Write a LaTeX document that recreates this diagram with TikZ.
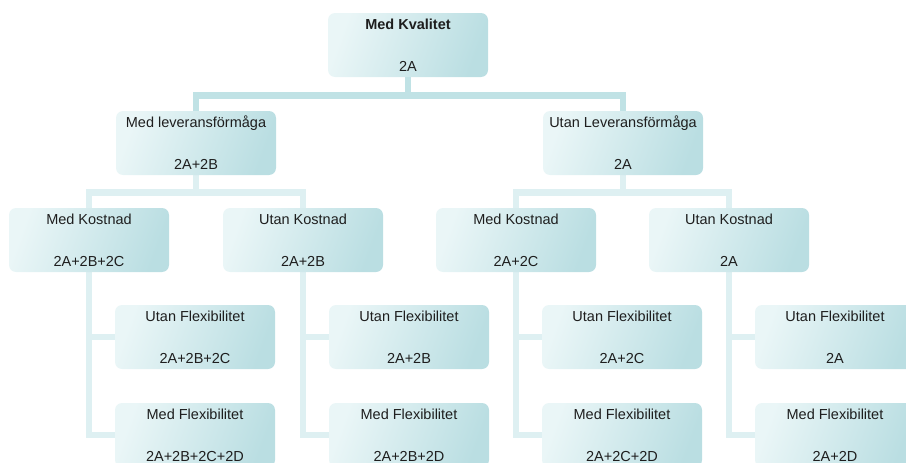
\documentclass[tikz,border=0pt]{standalone}
\usepackage{fontspec}
\setmainfont{Liberation Sans}
\usetikzlibrary{backgrounds}
\definecolor{boxlight}{RGB}{234,246,247}
\definecolor{boxdark}{RGB}{186,222,226}
\definecolor{trunkteal}{RGB}{192,226,229}
\definecolor{stemteal}{RGB}{222,240,242}
\definecolor{labelgray}{RGB}{30,30,30}
\tikzset{
  orgbox/.style={
    rounded corners=7pt,
    left color=boxlight,
    right color=boxdark,
    shading angle=70,
    minimum width=160pt,
    minimum height=64pt,
    inner sep=0pt
  },
  boxtext/.style={
    anchor=base,
    inner sep=0pt,
    text=labelgray,
    font=\fontsize{14.5}{17}\selectfont
  },
  toptext/.style={
    boxtext,
    yshift=-17pt
  },
  bottext/.style={
    boxtext,
    yshift=6pt
  },
  headtext/.style={
    toptext,
    font=\fontsize{14.5}{17}\selectfont\bfseries
  },
  trunk/.style={
    line width=6.5pt,
    draw=trunkteal
  },
  stem/.style={
    line width=6.5pt,
    draw=stemteal
  }
}
\begin{document}
\begin{tikzpicture}[x=1pt, y=-1pt]

\useasboundingbox (0,0) rectangle (906,463);
\clip (0,0) rectangle (906,463);

% Top level.
\node[orgbox, label={[headtext]north:Med Kvalitet}, label={[bottext]south:2A}] (kvalitet) at (408,45) {};

% Leveransförmåga.
\node[orgbox, label={[toptext]north:Med leveransförmåga}, label={[bottext]south:2A+2B}] (levMed) at (196,143) {};
\node[orgbox, label={[toptext]north:Utan Leveransförmåga}, label={[bottext]south:2A}] (levUtan) at (623,143) {};

% Kostnad.
\node[orgbox, label={[toptext]north:Med Kostnad}, label={[bottext]south:2A+2B+2C}] (kostMedA) at (89,240) {};
\node[orgbox, label={[toptext]north:Utan Kostnad}, label={[bottext]south:2A+2B}] (kostUtanA) at (303,240) {};
\node[orgbox, label={[toptext]north:Med Kostnad}, label={[bottext]south:2A+2C}] (kostMedB) at (516,240) {};
\node[orgbox, label={[toptext]north:Utan Kostnad}, label={[bottext]south:2A}] (kostUtanB) at (729,240) {};

% Flexibilitet.
\node[orgbox, label={[toptext]north:Utan Flexibilitet}, label={[bottext]south:2A+2B+2C}] (flexUtanA) at (195,337) {};
\node[orgbox, label={[toptext]north:Med Flexibilitet}, label={[bottext]south:2A+2B+2C+2D}] (flexMedA) at (195,435) {};
\node[orgbox, label={[toptext]north:Utan Flexibilitet}, label={[bottext]south:2A+2B}] (flexUtanB) at (409,337) {};
\node[orgbox, label={[toptext]north:Med Flexibilitet}, label={[bottext]south:2A+2B+2D}] (flexMedB) at (409,435) {};
\node[orgbox, label={[toptext]north:Utan Flexibilitet}, label={[bottext]south:2A+2C}] (flexUtanC) at (622,337) {};
\node[orgbox, label={[toptext]north:Med Flexibilitet}, label={[bottext]south:2A+2C+2D}] (flexMedC) at (622,435) {};
\node[orgbox, label={[toptext]north:Utan Flexibilitet}, label={[bottext]south:2A}] (flexUtanD) at (835,337) {};
\node[orgbox, label={[toptext]north:Med Flexibilitet}, label={[bottext]south:2A+2D}] (flexMedD) at (835,435) {};

% Connecting lines behind the boxes.
\begin{scope}[on background layer]
\draw[trunk] (kvalitet.south) -- ++(0,18.5) -| (levMed.north);
\draw[trunk] (kvalitet.south) -- ++(0,18.5) -| (levUtan.north);

\draw[stem] (levMed.south) -- ++(0,17.5) -| (kostMedA.north);
\draw[stem] (levMed.south) -- ++(0,17.5) -| (kostUtanA.north);
\draw[stem] (levUtan.south) -- ++(0,17.5) -| (kostMedB.north);
\draw[stem] (levUtan.south) -- ++(0,17.5) -| (kostUtanB.north);

\draw[stem] (kostMedA.south) |- (flexUtanA.west);
\draw[stem] (kostMedA.south) |- (flexMedA.west);
\draw[stem] (kostUtanA.south) |- (flexUtanB.west);
\draw[stem] (kostUtanA.south) |- (flexMedB.west);
\draw[stem] (kostMedB.south) |- (flexUtanC.west);
\draw[stem] (kostMedB.south) |- (flexMedC.west);
\draw[stem] (kostUtanB.south) |- (flexUtanD.west);
\draw[stem] (kostUtanB.south) |- (flexMedD.west);
\end{scope}

\end{tikzpicture}
\end{document}
